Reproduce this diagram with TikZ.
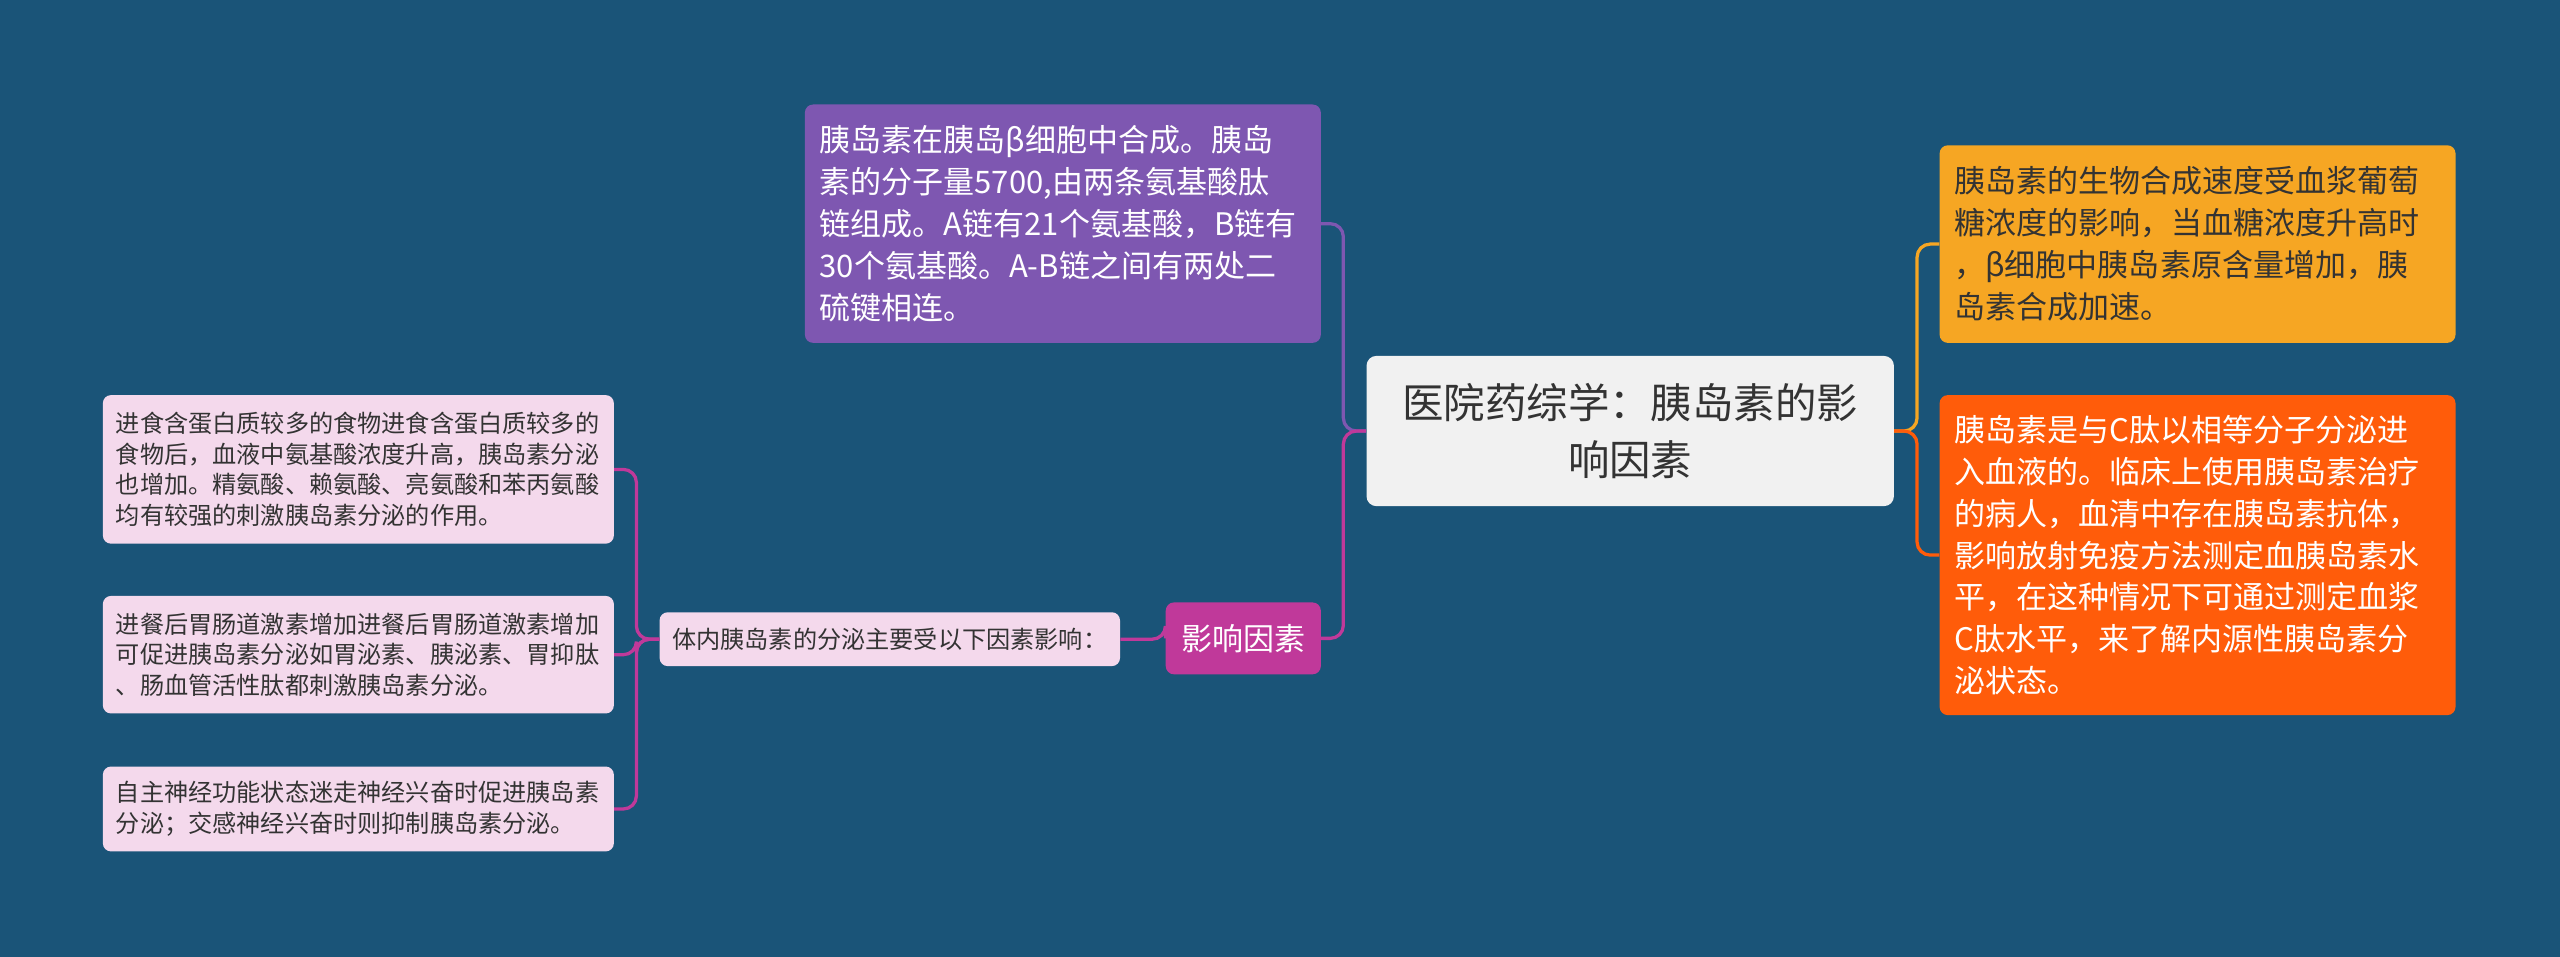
\documentclass[tikz,border=0pt]{standalone}
\usepackage{fontspec}
\newfontfamily\cjk{Noto Sans CJK SC}

\definecolor{bgblue}{HTML}{1A5478}
\definecolor{rootgray}{HTML}{F1F1F1}
\definecolor{darktext}{HTML}{333333}
\definecolor{cardpurple}{HTML}{7E57B1}
\definecolor{cardmagenta}{HTML}{C0399A}
\definecolor{cardpink}{HTML}{F4D9EC}
\definecolor{cardyellow}{HTML}{F6A623}
\definecolor{cardorange}{HTML}{FF5C0A}

\tikzset{
  card/.style={rounded corners=5pt, inner ysep=0pt, align=left},
  bigtext/.style={font=\cjk\fontsize{19pt}{25.7pt}\selectfont},
  smalltext/.style={font=\cjk\fontsize{14.8pt}{18.8pt}\selectfont},
  link/.style={draw=#1, line width=2pt, rounded corners=8pt}
}

\begin{document}
\begin{tikzpicture}[x=1pt,y=-1pt]
\path[use as bounding box, fill=bgblue] (0,0) rectangle (1568,586);
% Length of the stub between a node and its trunk
\def\stub{14}

% The root in the middle
\node[card, align=center, fill=rootgray, text=darktext, rounded corners=6pt,
  minimum width=323pt, minimum height=92pt,
  font=\cjk\fontsize{25.4pt}{34.7pt}\selectfont] (root) at (998.5,264)
  {医院药综学：胰岛素的影\\响因素};

% Branches on the left of the root
\node[card, bigtext, fill=cardpurple, text=white, inner xsep=9pt,
  text width=298pt, minimum height=146pt] (synth) at (651,137)
  {胰岛素在胰岛β细胞中合成。胰岛\\素的分子量5700,由两条氨基酸肽\\链组成。A链有21个氨基酸，B链有\\30个氨基酸。A-B链之间有两处二\\硫键相连。};
\node[card, bigtext, align=center, fill=cardmagenta, text=white,
  minimum width=95pt, minimum height=44pt] (factor) at (761.5,391) {影响因素};
\node[card, smalltext, align=center, fill=cardpink, text=darktext,
  minimum width=282pt, minimum height=33pt] (secret) at (545,391.5)
  {体内胰岛素的分泌主要受以下因素影响：};

% The three factors
\node[card, smalltext, fill=cardpink, text=darktext, inner xsep=8pt,
  text width=297pt, minimum height=91pt] (food) at (219.5,287.5)
  {进食含蛋白质较多的食物进食含蛋白质较多的\\食物后，血液中氨基酸浓度升高，胰岛素分泌\\也增加。精氨酸、赖氨酸、亮氨酸和苯丙氨酸\\均有较强的刺激胰岛素分泌的作用。};
\node[card, smalltext, fill=cardpink, text=darktext, inner xsep=8pt,
  text width=297pt, minimum height=72pt] (gut) at (219.5,401)
  {进餐后胃肠道激素增加进餐后胃肠道激素增加\\可促进胰岛素分泌如胃泌素、胰泌素、胃抑肽\\、肠血管活性肽都刺激胰岛素分泌。};
\node[card, smalltext, fill=cardpink, text=darktext, inner xsep=8pt,
  text width=297pt, minimum height=52pt] (nerve) at (219.5,495.5)
  {自主神经功能状态迷走神经兴奋时促进胰岛素\\分泌；交感神经兴奋时则抑制胰岛素分泌。};

% Branches on the right of the root
\node[card, bigtext, fill=cardyellow, text=darktext, inner xsep=9pt,
  text width=298pt, minimum height=121pt] (glucose) at (1346,149.5)
  {胰岛素的生物合成速度受血浆葡萄\\糖浓度的影响，当血糖浓度升高时\\，β细胞中胰岛素原含量增加，胰\\岛素合成加速。};
\node[card, bigtext, fill=cardorange, text=white, inner xsep=9pt,
  text width=298pt, minimum height=196pt] (cpep) at (1346,340)
  {胰岛素是与C肽以相等分子分泌进\\入血液的。临床上使用胰岛素治疗\\的病人，血清中存在胰岛素抗体，\\影响放射免疫方法测定血胰岛素水\\平，在这种情况下可通过测定血浆\\C肽水平，来了解内源性胰岛素分\\泌状态。};

% Connect the root to its branches
\draw[link=cardpurple] (root.west) -- ++(-\stub,0) |- (synth.east);
\draw[link=cardmagenta] (root.west) -- ++(-\stub,0) |- (factor.east);
\draw[link=cardyellow] (root.east) -- ++(\stub,0) |- (glucose.west);
\draw[link=cardorange] (root.east) -- ++(\stub,0) |- (cpep.west);

% Connect the factors
\draw[link=cardmagenta] (factor.west) -- (secret.west -| factor.west) -- (secret.east);
\foreach \leaf in {food,gut,nerve}
  \draw[link=cardmagenta] (secret.west) -- ++(-\stub,0) |- (\leaf.east);
\end{tikzpicture}
\end{document}
